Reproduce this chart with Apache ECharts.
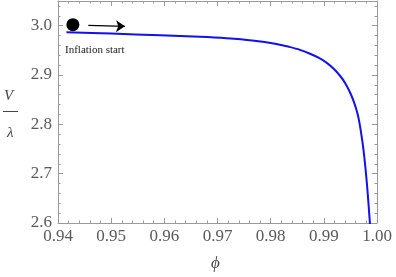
<!DOCTYPE html>
<html><head><meta charset="utf-8">
<script src="https://cdn.jsdelivr.net/npm/echarts@6/dist/echarts.min.js"></script>
<style>html,body{margin:0;padding:0;background:#fff}#c{width:396px;height:277px}</style>
</head><body><div id="c"></div>
<script>
// data
const phi = [0.9416, 0.9500, 0.9592, 0.9667, 0.9717, 0.9765, 0.9811, 0.9835, 0.9855, 0.9874, 0.9890, 0.9905, 0.9918, 0.9930, 0.9940, 0.9950, 0.9958, 0.9964, 0.9968, 0.9972, 0.99745, 0.9977, 0.9980, 0.99828, 0.9986, 0.99868];
const V   = [2.9865, 2.9840, 2.9805, 2.9775, 2.9745, 2.9700, 2.9630, 2.9570, 2.9510, 2.9430, 2.9350, 2.9250, 2.9130, 2.8990, 2.8840, 2.8630, 2.8410, 2.8190, 2.7970, 2.7690, 2.7490, 2.7250, 2.6920, 2.6560, 2.6100, 2.5980];
const startPoint = [0.9428, 3.002];
const arrowFrom = [0.9457, 3.0004];
const arrowTo = [0.9526, 2.9986];
const startLabel = 'Inflation start';
const xTicks = [0.94, 0.95, 0.96, 0.97, 0.98, 0.99, 1.00];
const yTicks = [2.6, 2.7, 2.8, 2.9, 3.0];

const serif = '"Liberation Serif", "DejaVu Serif", serif';
const frameColor = '#9a9a9a';
const labelColor = '#5a5a5a';

const chart = echarts.init(document.getElementById('c'), null, {renderer: 'canvas'});

function xAx(pos, showLabel) {
  return {
    type: 'value', position: pos, min: xTicks[0], max: xTicks[xTicks.length - 1], interval: 0.01,
    axisLine: {show: true, onZero: false, lineStyle: {color: frameColor, width: 1}},
    axisTick: {show: true, inside: true, length: 5, lineStyle: {color: frameColor}},
    minorTick: {show: true, splitNumber: 5, length: 2.5, lineStyle: {color: frameColor}},
    splitLine: {show: false}, minorSplitLine: {show: false},
    axisLabel: {show: showLabel, margin: 5, color: labelColor, fontFamily: serif, fontSize: 17,
      formatter: v => v.toFixed(2)}
  };
}
function yAx(pos, showLabel, major, offsetLine) {
  return {
    type: 'value', position: pos, min: yTicks[0], max: 3.05, interval: major ? 0.1 : 0.02,
    axisLine: {show: offsetLine, onZero: false, lineStyle: {color: frameColor, width: 1}},
    axisTick: {show: true, inside: true, length: major ? 5 : 2.5, lineStyle: {color: frameColor}},
    splitLine: {show: false},
    axisLabel: {show: showLabel, margin: 6, color: labelColor, fontFamily: serif, fontSize: 17,
      showMaxLabel: false,
      formatter: v => (Math.abs(v * 10 - Math.round(v * 10)) < 1e-6 && v <= 3.0001) ? v.toFixed(1) : ''}
  };
}

chart.setOption({
  animation: false,
  backgroundColor: '#fff',
  grid: {left: 58, right: 19, top: 1, bottom: 54},
  xAxis: [xAx('bottom', true), xAx('top', false)],
  yAxis: [yAx('left', true, true, true), yAx('left', false, false, false),
          yAx('right', false, true, true), yAx('right', false, false, false)],
  series: [
    {type: 'line', xAxisIndex: 0, yAxisIndex: 0, data: phi.map((p, i) => [p, V[i]]),
     smooth: 0.3, showSymbol: false, clip: true,
     lineStyle: {color: '#1010f0', width: 2}},
    {type: 'scatter', xAxisIndex: 0, yAxisIndex: 0, data: [startPoint], symbolSize: 13,
     itemStyle: {color: '#000', opacity: 1}},
    {type: 'lines', coordinateSystem: 'cartesian2d', xAxisIndex: 0, yAxisIndex: 0,
     symbol: ['none', 'arrow'], symbolSize: [0, 9],
     lineStyle: {color: '#000', width: 1.2, opacity: 1},
     data: [{coords: [arrowFrom, arrowTo]}]}
  ],
  graphic: [
    {type: 'text', left: 65, top: 45, style: {text: startLabel, font: '11px ' + serif, fill: '#222'}},
    {type: 'text', left: 4, top: 89, style: {text: 'V', font: 'italic 15px ' + serif, fill: '#444'}},
    {type: 'line', shape: {x1: 3, y1: 111.5, x2: 18, y2: 111.5}, style: {stroke: '#444', lineWidth: 1}},
    {type: 'text', left: 7, top: 126, style: {text: 'λ', font: 'italic 15px ' + serif, fill: '#444'}},
    {type: 'text', left: 211, top: 255, style: {text: 'ϕ', font: 'italic 17px ' + serif, fill: '#444'}}
  ]
});
</script></body></html>
